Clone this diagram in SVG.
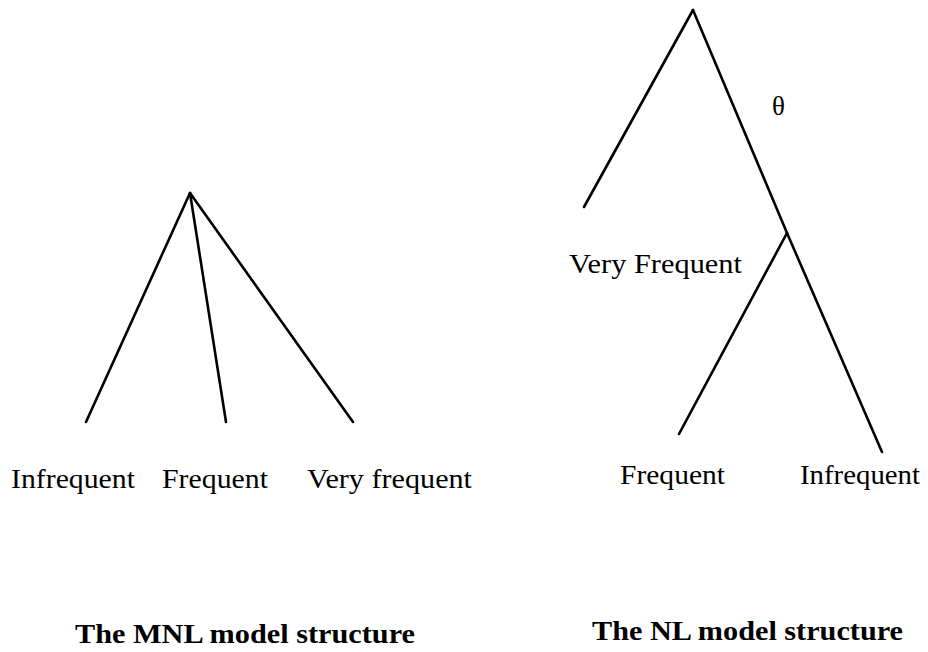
<svg xmlns="http://www.w3.org/2000/svg" width="928" height="652" viewBox="0 0 928 652">
<style>
.e{stroke:#000;stroke-width:2.6;fill:none;stroke-linecap:round}
.t{font-family:"Liberation Serif","Times New Roman",serif;font-size:27px;fill:#000}
.b{font-family:"Liberation Serif","Times New Roman",serif;font-size:28px;font-weight:bold;fill:#000}
</style>
<rect width="928" height="652" fill="#fff"/>
<g id="connectors">
<line class="e" x1="190" y1="193" x2="86" y2="422"/>
<line class="e" x1="190" y1="193" x2="226" y2="422"/>
<line class="e" x1="190" y1="193" x2="353" y2="422"/>
<line class="e" x1="693" y1="10" x2="584" y2="207"/>
<line class="e" x1="693" y1="10" x2="787" y2="233"/>
<line class="e" x1="787" y1="233" x2="882" y2="452"/>
<line class="e" x1="787" y1="233" x2="679" y2="434"/>
</g>
<g id="mnl-infrequent"><text class="t" x="11" y="488" textLength="124" lengthAdjust="spacingAndGlyphs">Infrequent</text></g>
<g id="mnl-frequent"><text class="t" x="162" y="488" textLength="106" lengthAdjust="spacingAndGlyphs">Frequent</text></g>
<g id="mnl-veryfrequent"><text class="t" x="307" y="488" textLength="165" lengthAdjust="spacingAndGlyphs">Very frequent</text></g>
<g id="nl-theta"><text class="t" x="772" y="115" font-size="25">θ</text></g>
<g id="nl-veryfrequent"><text class="t" x="569" y="273" textLength="173" lengthAdjust="spacingAndGlyphs">Very Frequent</text></g>
<g id="nl-frequent"><text class="t" x="620" y="484" textLength="105" lengthAdjust="spacingAndGlyphs">Frequent</text></g>
<g id="nl-infrequent"><text class="t" x="800" y="484" textLength="120" lengthAdjust="spacingAndGlyphs">Infrequent</text></g>
<g id="title-mnl"><text class="b" x="75" y="643" textLength="340" lengthAdjust="spacingAndGlyphs">The MNL model structure</text></g>
<g id="title-nl"><text class="b" x="592" y="640" textLength="311" lengthAdjust="spacingAndGlyphs">The NL model structure</text></g>
</svg>
